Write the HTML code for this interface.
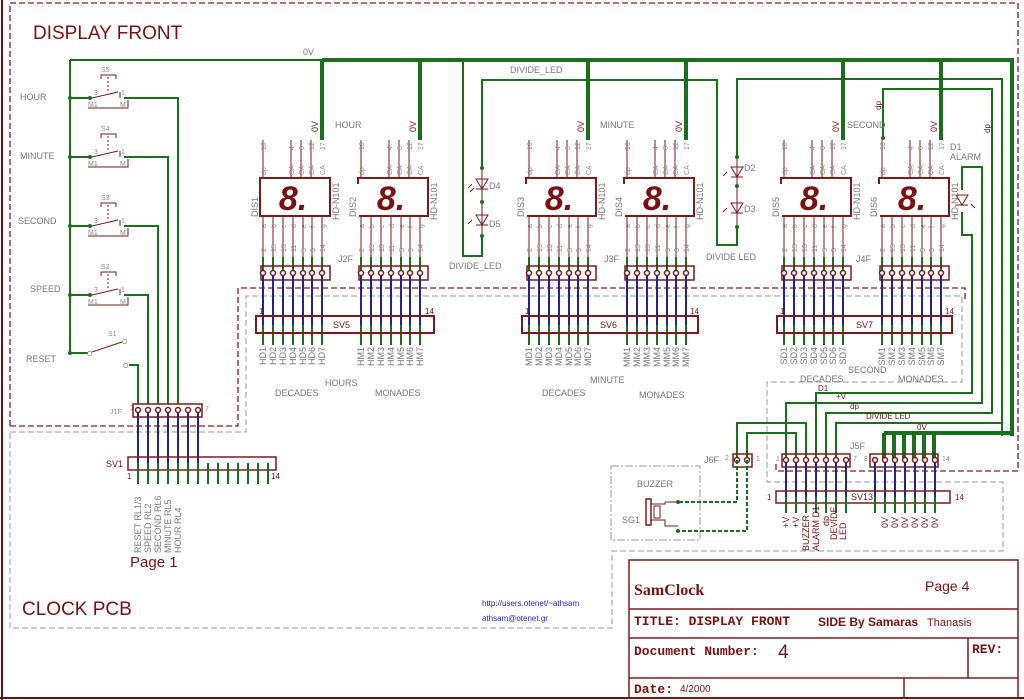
<!DOCTYPE html>
<html><head><meta charset="utf-8"><style>
html,body{margin:0;padding:0;background:#fff}
svg{display:block}
text{font-family:"Liberation Sans",sans-serif}
.g{stroke:#1b6e1b;stroke-width:2;fill:none}
.gt{stroke:#1b6e1b;stroke-width:4;fill:none}
.r{stroke:#7a1a1a;stroke-width:1;fill:none}
.b{stroke:#22228f;stroke-width:2;fill:none}
.lb{fill:#777;font-size:9px}
.sm{fill:#888;font-size:7px}
.rd{fill:#7a1010}
.mono{font-family:"Liberation Mono",monospace;font-weight:bold}
.serif{font-family:"Liberation Serif",serif}
</style></head><body>
<svg width="1024" height="700" viewBox="0 0 1024 700" xmlns="http://www.w3.org/2000/svg">
<rect width="1024" height="700" fill="#fff"/>
<line x1="2" y1="0" x2="2" y2="700" stroke="#6a0f0f" stroke-width="2"/>
<line x1="0" y1="698" x2="1024" y2="698" stroke="#6a0f0f" stroke-width="2"/>
<path d="M10,426 V3 H1018 V471 H776 V462" stroke="#8a1a1a" stroke-width="1.3" stroke-dasharray="6,3" fill="none"/>
<path d="M10,426 H238 V288 H965 V300" stroke="#8a1a1a" stroke-width="1.3" stroke-dasharray="6,3" fill="none"/>
<path d="M10,432 H246 V296 H962 V382 H767 V482 H1003 V551 H612 V628 H10 Z" stroke="#999" stroke-width="1" stroke-dasharray="6,3" fill="none"/>
<path d="M611,466 H700 V540 H611 Z" stroke="#999" stroke-width="1" stroke-dasharray="8,2,2,2" fill="none"/>

<text x="33" y="39" font-size="19" class="rd">DISPLAY FRONT</text>
<text x="22" y="615" font-size="19" class="rd">CLOCK PCB</text>

<line x1="70" y1="60" x2="322" y2="60" class="g"/>
<path d="M322,60 H1012 V436" class="gt"/>
<text x="303" y="55" class="lb">0V</text>
<g class="gt">
<line x1="322" y1="60" x2="322" y2="140"/><line x1="420" y1="60" x2="420" y2="140"/>
<line x1="588" y1="60" x2="588" y2="140"/><line x1="686" y1="60" x2="686" y2="140"/>
<line x1="843" y1="60" x2="843" y2="140"/><line x1="941" y1="60" x2="941" y2="140"/>
</g>
<line x1="70" y1="60" x2="70" y2="353" class="g"/>

<g font-size="8">
<text x="20" y="100" class="lb">HOUR</text>
<text x="20" y="159" class="lb">MINUTE</text>
<text x="18" y="224" class="lb">SECOND</text>
<text x="30" y="292" class="lb">SPEED</text>
<text x="26" y="362" class="lb">RESET</text>
</g>
<g>
<path class="g" d="M70,98 H90"/><circle cx="70" cy="98" r="2" fill="#1b6e1b"/><circle cx="90" cy="98" r="2" fill="#1b6e1b"/>
<path class="r" d="M92,98 L118,92 M120,92 V98 M88,108 H128 V100"/>
<path class="g" d="M124,98 H178 V404"/>
<path class="r" d="M101,79 V75 H116 V79"/><line x1="108" y1="77" x2="108" y2="93" stroke="#7a1a1a" stroke-dasharray="2,2"/>
<text x="101" y="72" class="sm">S5</text><text x="94" y="95" class="sm">3</text><text x="121" y="95" class="sm">1</text><text x="88" y="107" class="sm">M1</text><text x="120" y="107" class="sm">M</text>
</g>
<g>
<path class="g" d="M70,157 H90"/><circle cx="70" cy="157" r="2" fill="#1b6e1b"/><circle cx="90" cy="157" r="2" fill="#1b6e1b"/>
<path class="r" d="M92,157 L118,151 M120,151 V157 M88,167 H128 V159"/>
<path class="g" d="M124,157 H168 V404"/>
<path class="r" d="M101,138 V134 H116 V138"/><line x1="108" y1="136" x2="108" y2="152" stroke="#7a1a1a" stroke-dasharray="2,2"/>
<text x="101" y="131" class="sm">S4</text><text x="94" y="154" class="sm">3</text><text x="121" y="154" class="sm">1</text><text x="88" y="166" class="sm">M1</text><text x="120" y="166" class="sm">M</text>
</g>
<g>
<path class="g" d="M70,226 H90"/><circle cx="70" cy="226" r="2" fill="#1b6e1b"/><circle cx="90" cy="226" r="2" fill="#1b6e1b"/>
<path class="r" d="M92,226 L118,220 M120,220 V226 M88,236 H128 V228"/>
<path class="g" d="M124,226 H158 V404"/>
<path class="r" d="M101,207 V203 H116 V207"/><line x1="108" y1="205" x2="108" y2="221" stroke="#7a1a1a" stroke-dasharray="2,2"/>
<text x="101" y="200" class="sm">S3</text><text x="94" y="223" class="sm">3</text><text x="121" y="223" class="sm">1</text><text x="88" y="235" class="sm">M1</text><text x="120" y="235" class="sm">M</text>
</g>
<g>
<path class="g" d="M70,295 H90"/><circle cx="70" cy="295" r="2" fill="#1b6e1b"/><circle cx="90" cy="295" r="2" fill="#1b6e1b"/>
<path class="r" d="M92,295 L118,289 M120,289 V295 M88,305 H128 V297"/>
<path class="g" d="M124,295 H148 V404"/>
<path class="r" d="M101,276 V272 H116 V276"/><line x1="108" y1="274" x2="108" y2="290" stroke="#7a1a1a" stroke-dasharray="2,2"/>
<text x="101" y="269" class="sm">S2</text><text x="94" y="292" class="sm">3</text><text x="121" y="292" class="sm">1</text><text x="88" y="304" class="sm">M1</text><text x="120" y="304" class="sm">M</text>
</g>
<path class="g" d="M70,353 H88"/><circle cx="70" cy="353" r="2" fill="#1b6e1b"/>
<path class="r" d="M92,352 L122,342"/>
<text x="108" y="336" class="sm">S1</text><text x="87" y="356" class="sm">O</text><text x="122" y="344" class="sm">O</text><text x="123" y="368" class="sm">O</text>
<path class="g" d="M129,365 H138 V404"/>

<text x="110" y="414" class="sm" font-size="8">J1F</text><text x="130" y="410" class="sm">1</text><text x="205" y="411" class="sm">7</text>
<rect x="133" y="404" width="69" height="13" fill="none" stroke="#7a1a1a" stroke-width="1.5"/>
<g class="b"><path d="M138,410V463M148,410V463M158,410V463M168,410V463M178,410V463M188,410V463M198,410V463"/></g>
<g fill="#fff" stroke="#7a1a1a" stroke-width="1.5"><circle cx="138" cy="410" r="2.5"/><circle cx="148" cy="410" r="2.5"/><circle cx="158" cy="410" r="2.5"/><circle cx="168" cy="410" r="2.5"/><circle cx="178" cy="410" r="2.5"/><circle cx="188" cy="410" r="2.5"/><circle cx="198" cy="410" r="2.5"/></g>
<rect x="128" y="457" width="148" height="13" fill="none" stroke="#7a1a1a" stroke-width="1.5"/>
<g class="g"><path d="M138,463V484M148,463V484M158,463V484M168,463V484M178,463V484M188,463V484M198,463V484M208,463V484M218,463V484M228,463V484M238,463V484M248,463V484M258,463V484M268,463V484"/></g>
<text x="106" y="467" class="rd" font-size="9">SV1</text><text x="127" y="479" class="rd" font-size="8">1</text><text x="271" y="479" class="rd" font-size="8">14</text>
<g class="lb" font-size="9">
<text transform="translate(141,553) rotate(-90)">RESET RL1/3</text>
<text transform="translate(151,553) rotate(-90)">SPEED   RL2</text>
<text transform="translate(161,553) rotate(-90)">SECOND RL6</text>
<text transform="translate(171,553) rotate(-90)">MINUTE RL5</text>
<text transform="translate(181,553) rotate(-90)">HOUR    RL4</text>
</g>
<text x="130" y="567" class="rd" font-size="15">Page 1</text>

<path class="g" d="M463,60 V256 H482 V236 M482,168 V80 H717 V245 H737 V227 M737,157 V79 H1002 V436"/>
<text x="510" y="73" class="lb">DIVIDE_LED</text>
<text x="449" y="269" class="lb">DIVIDE_LED</text>
<text x="706" y="260" class="lb">DIVIDE LED</text>
<g class="r" stroke-width="1.5">
<path d="M482,168 V236"/><path d="M737,157 V227"/>
<path d="M476,179 H488 L482,189 Z M476,189 H488" /><path d="M476,215 H488 L482,225 Z M476,225 H488"/>
<path d="M731,167 H743 L737,177 Z M731,177 H743"/><path d="M731,203 H743 L737,213 Z M731,213 H743"/>
<path d="M956,195 H968 L962,205 Z M956,205 H968"/>
<path d="M472,184 l-4,4 M474,188 l-4,4 M727,172 l-4,4 M727,208 l-4,4 M472,220 l-4,4 M971,204 l4,4"/>
</g>
<g fill="#1b6e1b"><circle cx="482" cy="168" r="2"/><circle cx="482" cy="202" r="2"/><circle cx="482" cy="236" r="2"/><circle cx="737" cy="157" r="2"/><circle cx="737" cy="186" r="2"/><circle cx="737" cy="227" r="2"/></g>
<g class="lb"><text x="489" y="189">D4</text><text x="489" y="227">D5</text><text x="744" y="171">D2</text><text x="744" y="212">D3</text><text x="950" y="150">D1</text><text x="950" y="160">ALARM</text></g>

<path class="g" d="M883,138 V89 H992 V413 H826 V460"/>
<path class="g" d="M962,190 V167 H982 V403 H786 V460"/>
<path class="g" d="M962,212 V235 H972 V393 H816 V460"/>
<path class="g" d="M1002,423 H836 V460"/>
<circle cx="883" cy="138" r="2" fill="#1b6e1b"/>
<text transform="translate(881,110) rotate(-90)" class="rd" font-size="8">dp</text>
<text transform="translate(990,133) rotate(-90)" class="rd" font-size="8">dp</text>
<path class="gt" d="M884,433 H1012 M884,433V460 M894,433V460 M904,433V460 M914,433V460 M924,433V460 M934,433V460"/>
<path class="g" d="M737,460 V423 H806 V460 M747,460 V433 H796 V460"/>
<g class="rd" font-size="8"><text x="818" y="391">D1</text><text x="836" y="399">+V</text><text x="850" y="409">dp</text><text x="866" y="419">DIVIDE LED</text><text x="917" y="430">0V</text></g>

<rect x="733" y="454" width="19" height="13" fill="none" stroke="#7a1a1a" stroke-width="1.5"/>
<rect x="782" y="454" width="68" height="13" fill="none" stroke="#7a1a1a" stroke-width="1.5"/>
<rect x="870" y="454" width="68" height="13" fill="none" stroke="#7a1a1a" stroke-width="1.5"/>
<g class="b"><path d="M786,460V497M796,460V497M806,460V497M816,460V497M826,460V497M836,460V497M846,460V497M875,460V497M885,460V497M895,460V497M905,460V497M915,460V497M925,460V497M935,460V497"/></g>
<g fill="#fff" stroke="#7a1a1a" stroke-width="1.5"><circle cx="737" cy="460" r="2.5"/><circle cx="747" cy="460" r="2.5"/><circle cx="786" cy="460" r="2.5"/><circle cx="796" cy="460" r="2.5"/><circle cx="806" cy="460" r="2.5"/><circle cx="816" cy="460" r="2.5"/><circle cx="826" cy="460" r="2.5"/><circle cx="836" cy="460" r="2.5"/><circle cx="846" cy="460" r="2.5"/><circle cx="875" cy="460" r="2.5"/><circle cx="885" cy="460" r="2.5"/><circle cx="895" cy="460" r="2.5"/><circle cx="905" cy="460" r="2.5"/><circle cx="915" cy="460" r="2.5"/><circle cx="925" cy="460" r="2.5"/><circle cx="935" cy="460" r="2.5"/></g>
<rect x="776" y="491" width="174" height="12" fill="none" stroke="#7a1a1a" stroke-width="1.5"/>
<g class="g"><path d="M786,497V513M796,497V513M806,497V513M816,497V513M826,497V513M836,497V513M846,497V513M875,497V513M885,497V513M895,497V513M905,497V513M915,497V513M925,497V513M935,497V513"/></g>
<g class="lb"><text x="704" y="463">J6F</text><text x="725" y="460" class="sm">2</text><text x="756" y="461" class="sm">1</text><text x="850" y="449">J5F</text><text x="776" y="461" class="sm">1</text><text x="853" y="461" class="sm">7</text><text x="864" y="461" class="sm">8</text><text x="942" y="461" class="sm">14</text>
<text x="851" y="500" class="rd">SV13</text><text x="767" y="500" class="rd" font-size="8">1</text><text x="955" y="500" class="rd" font-size="8">14</text></g>
<g class="rd" font-size="9">
<text transform="translate(789,528) rotate(-90)">+V</text><text transform="translate(799,528) rotate(-90)">+V</text>
<text transform="translate(809,551) rotate(-90)">BUZZER</text><text transform="translate(819,551) rotate(-90)">ALARM D1</text>
<text transform="translate(829,526) rotate(-90)">dp</text><text transform="translate(837,540) rotate(-90)">DEVIDE</text><text transform="translate(846,540) rotate(-90)">LED</text>
<text transform="translate(888,528) rotate(-90)">0V</text><text transform="translate(898,528) rotate(-90)">0V</text><text transform="translate(908,528) rotate(-90)">0V</text><text transform="translate(918,528) rotate(-90)">0V</text><text transform="translate(928,528) rotate(-90)">0V</text><text transform="translate(938,528) rotate(-90)">0V</text>
</g>
<path d="M737,460 V502 H678 M747,460 V531 H678" stroke="#1b6e1b" stroke-width="2" stroke-dasharray="4,2" fill="none"/>
<circle cx="678" cy="502" r="2" fill="#1b6e1b"/><circle cx="678" cy="531" r="2" fill="#1b6e1b"/>
<rect x="646" y="499" width="5" height="26" fill="none" stroke="#7a1a1a" stroke-width="1.5"/>
<rect x="654" y="506" width="6" height="12" fill="none" stroke="#7a1a1a"/>
<path class="r" d="M651,504 H665 V502 M651,520 H665 V526 H678 M665,502 H678"/>
<text x="637" y="487" class="lb">BUZZER</text><text x="622" y="523" class="lb">SG1</text>

<g id="d1" transform="translate(260,0)">
<path class="r" d="M3,140V178M31,140V178M41,140V178M51,140V178M3,216V257M13,216V257M23,216V257M33,216V257M43,216V257M52,216V257M62,216V257"/>
<path class="g" d="M3,257V273M13,257V273M23,257V273M33,257V273M43,257V273M52,257V273M62,257V273"/>
<rect x="0" y="178" width="70" height="38" fill="#fff" stroke="#7a1a1a" stroke-width="2"/>
<text x="33" y="210" font-size="34" font-style="italic" font-weight="bold" text-anchor="middle" class="rd">8.</text>
<g class="sm"><text transform="translate(6,150) rotate(-90)">10</text><text transform="translate(34,150) rotate(-90)">4</text><text transform="translate(44,150) rotate(-90)">6</text><text transform="translate(54,150) rotate(-90)">12</text><text transform="translate(65,150) rotate(-90)">17</text>
<text transform="translate(6,175) rotate(-90)">dp</text><text transform="translate(34,175) rotate(-90)">CA</text><text transform="translate(44,175) rotate(-90)">CA</text><text transform="translate(54,175) rotate(-90)">CA</text><text transform="translate(65,175) rotate(-90)">CA</text>
<text transform="translate(6,228) rotate(-90)">a</text><text transform="translate(16,228) rotate(-90)">b</text><text transform="translate(26,228) rotate(-90)">c</text><text transform="translate(36,228) rotate(-90)">d</text><text transform="translate(46,228) rotate(-90)">e</text><text transform="translate(55,228) rotate(-90)">f</text><text transform="translate(65,228) rotate(-90)">g</text>
<text transform="translate(6,252) rotate(-90)">2</text><text transform="translate(16,252) rotate(-90)">15</text><text transform="translate(26,252) rotate(-90)">13</text><text transform="translate(36,252) rotate(-90)">11</text><text transform="translate(46,252) rotate(-90)">5</text><text transform="translate(55,252) rotate(-90)">3</text><text transform="translate(65,252) rotate(-90)">14</text></g>
<text transform="translate(-2,217) rotate(-90)" class="lb">DIS1</text><text transform="translate(79,220) rotate(-90)" class="lb">HD-N101</text>
<text transform="translate(58,132) rotate(-90)" class="rd" font-size="9">0V</text>
<rect x="1" y="266" width="69" height="14" fill="none" stroke="#7a1a1a" stroke-width="1.5"/>
<g fill="#fff" stroke="#7a1a1a" stroke-width="1.5"><circle cx="3" cy="273" r="2.5"/><circle cx="13" cy="273" r="2.5"/><circle cx="23" cy="273" r="2.5"/><circle cx="33" cy="273" r="2.5"/><circle cx="43" cy="273" r="2.5"/><circle cx="52" cy="273" r="2.5"/><circle cx="62" cy="273" r="2.5"/></g>
</g>
<use href="#d1" x="98" y="0"/>
<use href="#d1" x="266" y="0"/>
<use href="#d1" x="364" y="0"/>
<use href="#d1" x="521" y="0"/>
<use href="#d1" x="619" y="0"/>
<g fill="#fff"><rect x="349" y="184" width="10" height="34"/><rect x="517" y="184" width="10" height="34"/><rect x="615" y="184" width="10" height="34"/><rect x="772" y="184" width="10" height="34"/><rect x="870" y="184" width="10" height="34"/></g>
<g class="lb">
<text transform="translate(356,217) rotate(-90)">DIS2</text><text transform="translate(524,217) rotate(-90)">DIS3</text><text transform="translate(622,217) rotate(-90)">DIS4</text><text transform="translate(779,217) rotate(-90)">DIS5</text><text transform="translate(877,217) rotate(-90)">DIS6</text>
<text x="335" y="128">HOUR</text><text x="600" y="128">MINUTE</text><text x="847" y="128">SECOND</text>
<text x="338" y="262">J2F</text><text x="604" y="262">J3F</text><text x="856" y="262">J4F</text>
</g>

<g class="b"><path d="M263,276V325M273,276V325M283,276V325M293,276V325M303,276V325M312,276V325M322,276V325M361,276V325M371,276V325M381,276V325M391,276V325M401,276V325M410,276V325M420,276V325M529,276V325M539,276V325M549,276V325M559,276V325M569,276V325M578,276V325M588,276V325M627,276V325M637,276V325M647,276V325M657,276V325M667,276V325M676,276V325M686,276V325M784,276V325M794,276V325M804,276V325M814,276V325M824,276V325M833,276V325M843,276V325M882,276V325M892,276V325M902,276V325M912,276V325M922,276V325M931,276V325M941,276V325"/></g>
<g class="g"><path d="M263,325V345M273,325V345M283,325V345M293,325V345M303,325V345M312,325V345M322,325V345M361,325V345M371,325V345M381,325V345M391,325V345M401,325V345M410,325V345M420,325V345M529,325V345M539,325V345M549,325V345M559,325V345M569,325V345M578,325V345M588,325V345M627,325V345M637,325V345M647,325V345M657,325V345M667,325V345M676,325V345M686,325V345M784,325V345M794,325V345M804,325V345M814,325V345M824,325V345M833,325V345M843,325V345M882,325V345M892,325V345M902,325V345M912,325V345M922,325V345M931,325V345M941,325V345"/></g>
<g fill="none" stroke="#7a1a1a" stroke-width="2"><rect x="256" y="316" width="178" height="17"/><rect x="522" y="316" width="176" height="17"/><rect x="777" y="316" width="175" height="17"/></g>
<g class="rd" font-size="9"><text x="333" y="328">SV5</text><text x="600" y="328">SV6</text><text x="856" y="328">SV7</text>
<text x="259" y="314" font-size="8">1</text><text x="425" y="314" font-size="8">14</text><text x="525" y="314" font-size="8">1</text><text x="690" y="314" font-size="8">14</text><text x="780" y="314" font-size="8">1</text><text x="945" y="314" font-size="8">14</text></g>
<g class="lb" font-size="8">
<text transform="translate(266,347) rotate(-90)" text-anchor="end">HD1</text><text transform="translate(276,347) rotate(-90)" text-anchor="end">HD2</text><text transform="translate(286,347) rotate(-90)" text-anchor="end">HD3</text><text transform="translate(296,347) rotate(-90)" text-anchor="end">HD4</text><text transform="translate(306,347) rotate(-90)" text-anchor="end">HD5</text><text transform="translate(315,347) rotate(-90)" text-anchor="end">HD6</text><text transform="translate(325,347) rotate(-90)" text-anchor="end">HD7</text>
<text transform="translate(364,347) rotate(-90)" text-anchor="end">HM1</text><text transform="translate(374,347) rotate(-90)" text-anchor="end">HM2</text><text transform="translate(384,347) rotate(-90)" text-anchor="end">HM3</text><text transform="translate(394,347) rotate(-90)" text-anchor="end">HM4</text><text transform="translate(404,347) rotate(-90)" text-anchor="end">HM5</text><text transform="translate(413,347) rotate(-90)" text-anchor="end">HM6</text><text transform="translate(423,347) rotate(-90)" text-anchor="end">HM7</text>
<text transform="translate(532,347) rotate(-90)" text-anchor="end">MD1</text><text transform="translate(542,347) rotate(-90)" text-anchor="end">MD2</text><text transform="translate(552,347) rotate(-90)" text-anchor="end">MD3</text><text transform="translate(562,347) rotate(-90)" text-anchor="end">MD4</text><text transform="translate(572,347) rotate(-90)" text-anchor="end">MD5</text><text transform="translate(581,347) rotate(-90)" text-anchor="end">MD6</text><text transform="translate(591,347) rotate(-90)" text-anchor="end">MD7</text>
<text transform="translate(630,347) rotate(-90)" text-anchor="end">MM1</text><text transform="translate(640,347) rotate(-90)" text-anchor="end">MM2</text><text transform="translate(650,347) rotate(-90)" text-anchor="end">MM3</text><text transform="translate(660,347) rotate(-90)" text-anchor="end">MM4</text><text transform="translate(670,347) rotate(-90)" text-anchor="end">MM5</text><text transform="translate(679,347) rotate(-90)" text-anchor="end">MM6</text><text transform="translate(689,347) rotate(-90)" text-anchor="end">MM7</text>
<text transform="translate(787,347) rotate(-90)" text-anchor="end">SD1</text><text transform="translate(797,347) rotate(-90)" text-anchor="end">SD2</text><text transform="translate(807,347) rotate(-90)" text-anchor="end">SD3</text><text transform="translate(817,347) rotate(-90)" text-anchor="end">SD4</text><text transform="translate(827,347) rotate(-90)" text-anchor="end">SD5</text><text transform="translate(836,347) rotate(-90)" text-anchor="end">SD6</text><text transform="translate(846,347) rotate(-90)" text-anchor="end">SD7</text>
<text transform="translate(885,347) rotate(-90)" text-anchor="end">SM1</text><text transform="translate(895,347) rotate(-90)" text-anchor="end">SM2</text><text transform="translate(905,347) rotate(-90)" text-anchor="end">SM3</text><text transform="translate(915,347) rotate(-90)" text-anchor="end">SM4</text><text transform="translate(925,347) rotate(-90)" text-anchor="end">SM5</text><text transform="translate(934,347) rotate(-90)" text-anchor="end">SM6</text><text transform="translate(944,347) rotate(-90)" text-anchor="end">SM7</text>
</g>
<g class="lb">
<text x="325" y="386">HOURS</text><text x="275" y="396">DECADES</text><text x="375" y="396">MONADES</text>
<text x="590" y="383">MINUTE</text><text x="542" y="396">DECADES</text><text x="639" y="398">MONADES</text>
<text x="848" y="373">SECOND</text><text x="800" y="382">DECADES</text><text x="898" y="382">MONADES</text>
</g>

<text x="482" y="606" font-size="8" fill="#2222cc">http://users.otenet/~athsam</text>
<text x="482" y="621" font-size="8" fill="#2222cc">athsam@otenet.gr</text>

<g fill="none" stroke="#7a1a1a" stroke-width="1.5">
<rect x="629" y="560" width="389" height="138"/>
<path d="M629,609 H1018 M629,638 H1018 M629,678 H1018 M968,638 V678 M904,678 V698"/>
</g>
<text x="634" y="595" font-weight="bold" font-size="16" class="rd serif">SamClock</text>
<text x="925" y="591" font-size="14" class="rd">Page 4</text>
<text x="634" y="625" font-size="13" class="rd mono">TITLE:  DISPLAY FRONT</text>
<text x="818" y="626" font-size="12" font-weight="bold" class="rd">SIDE By Samaras</text>
<text x="927" y="626" font-size="11" class="rd">Thanasis</text>
<text x="634" y="655" font-size="13" class="rd mono">Document Number:</text>
<text x="778" y="658" font-size="19" class="rd">4</text>
<text x="972" y="653" font-size="13" class="rd mono">REV:</text>
<text x="634" y="693" font-size="13" class="rd mono">Date:</text>
<text x="680" y="692" font-size="10" class="rd">4/2000</text>
</svg>
</body></html>
